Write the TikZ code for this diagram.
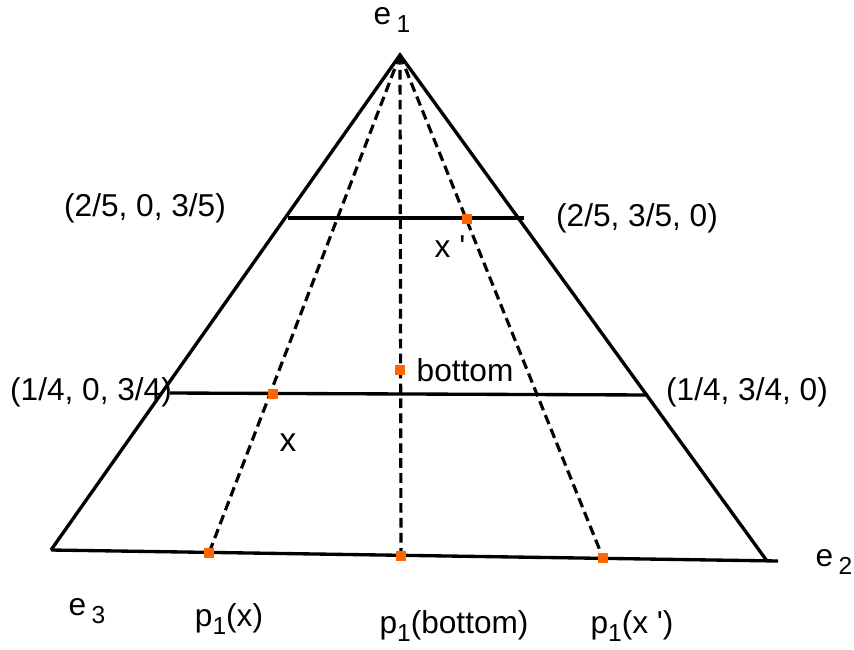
\documentclass[tikz,border=0pt]{standalone}
\usepackage{fontspec}
\setmainfont{Liberation Sans}
\usepackage{xcolor}
\usepackage{tikz}
\usetikzlibrary{positioning}

\definecolor{dotorange}{RGB}{255,102,0}
\newcommand{\lowsub}[1]{\raisebox{-5pt}{\fontsize{14}{14}\selectfont #1}}

\begin{document}
\begin{tikzpicture}[x=0.02cm, y=-0.02cm,
  sideline/.style={line width=1.9pt},
  projline/.style={line width=1.8pt, dash pattern=on 5.5pt off 3pt},
  orangedot/.style={rectangle, fill=dotorange, inner sep=0pt, minimum size=5.5pt},
  lbl/.style={font=\fontsize{18}{21}\selectfont, inner sep=0pt}]

\useasboundingbox (0,0) rectangle (854,649);

% Vertices
\coordinate (e1) at (400,55);
\coordinate (e2) at (767,561);
\coordinate (e3) at (51,550);
\coordinate (baseend) at (778,561);

% Triangle
\draw[sideline, line join=miter] (e3) -- (e1) -- (e2);
\draw[sideline] (e3) -- (baseend);

% Level lines
\coordinate (upL) at (288,218);
\coordinate (upR) at (524,218);
\coordinate (lowL) at (170,393);
\coordinate (lowR) at (648,395);
\draw[sideline] (upL) -- (upR);
\draw[sideline] (lowL) -- (lowR);

% Projections onto the base
\coordinate (px) at (209,553);
\coordinate (pbot) at (401,556);
\coordinate (pxp) at (603,558);
\draw[projline] (e1) -- (px);
\draw[projline] (e1) -- (pbot);
\draw[projline] (e1) -- (pxp);

% Points
\node[orangedot] (projx) at (px) {};
\node[orangedot] (projbot) at (pbot) {};
\node[orangedot] (projxp) at (pxp) {};
\node[orangedot] (ptx) at (273,394) {};
\node[orangedot] (ptxp) at (467,219) {};
\node[orangedot] (ptbot) at (400,370) {};

% Vertex labels
\node[lbl] (le1) at (392,20) {e\,\lowsub{1}};
\node[lbl] (le2) at (834,562) {e\,\lowsub{2}};
\node[lbl] (le3) at (87,611) {e\,\lowsub{3}};

% Endpoint labels
\node[lbl] (lupL) at (145,208) {(2/5, 0, 3/5)};
\node[lbl] (lupR) at (637,218) {(2/5, 3/5, 0)};
\node[lbl] (llowL) at (91,392) {(1/4, 0, 3/4)};
\node[lbl] (llowR) at (747,392) {(1/4, 3/4, 0)};

% Point labels
\node[lbl] (lxp) at (450,247) {x \textquotesingle};
\node[lbl] (lbot) at (465,370) {bottom};
\node[lbl, font=\fontsize{19}{23}\selectfont] (lx) at (288,443) {x};

% Projection labels
\node[lbl] (lpx) at (229,619) {p\lowsub{1}(x)};
\node[lbl] (lpbot) at (454,626) {p\lowsub{1}(bottom)};
\node[lbl] (lpxp) at (632,626) {p\lowsub{1}(x \textquotesingle)};

\end{tikzpicture}
\end{document}
